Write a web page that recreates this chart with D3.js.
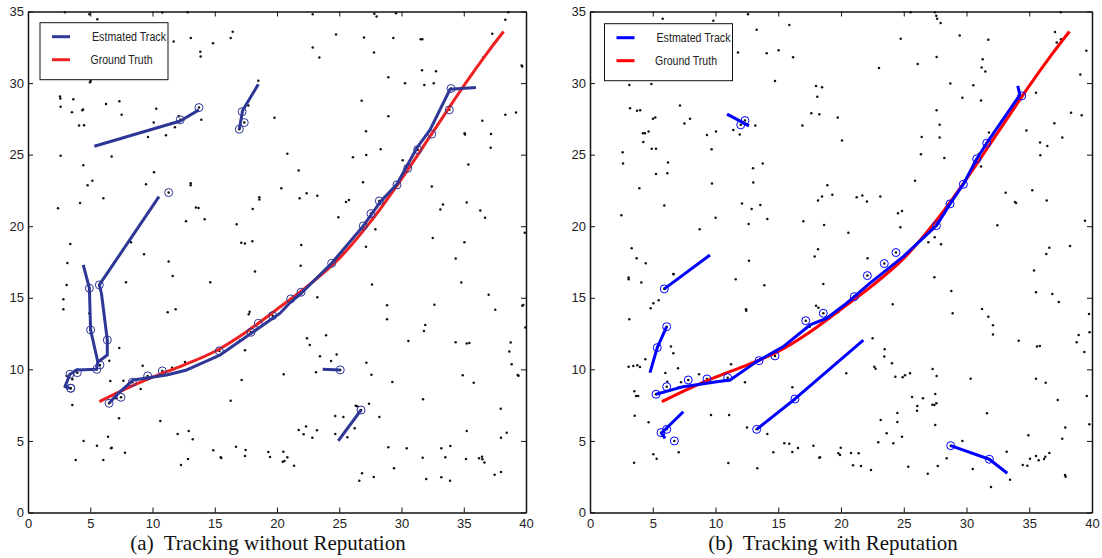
<!DOCTYPE html>
<html>
<head>
<meta charset="utf-8">
<script src="https://cdn.jsdelivr.net/npm/d3@7"></script>
<style>
  body { margin: 0; background: #fff; }
  svg { display: block; }
  .tick text { font-family: "Liberation Sans", Arial, sans-serif; font-size: 13px; fill: #222; }
  .domain { stroke: #111; stroke-width: 1.5; }
  .tick line { stroke: #111; stroke-width: 1; }
</style>
</head>
<body>
<div id="chart"></div>
<script>
const xTicks = [0, 5, 10, 15, 20, 25, 30, 35, 40];
const yTicks = [0, 5, 10, 15, 20, 25, 30, 35];
const legendLabels = ["Estmated Track", "Ground Truth"];
const titles = ["(a)  Tracking without Reputation", "(b)  Tracking with Reputation"];

// ground truth target path (same in both runs)
const groundTruth = [[5.73,7.74],[7.5,8.5],[10,9.45],[12.5,10.3],[15,11.25],[17.5,12.6],[20,14.2],[22.5,15.85],[25,17.75],[27.5,20.3],[30,23.3],[32.5,26.55],[35,29.8],[36.8,32.0],[38.2,33.6]];

// (a) estimated tracks without reputation
const leftTracks = [
  [[6.51,7.63],[7.12,8.21],[8.46,9.26],[11.14,9.61],[12.75,9.96],[15.42,11.0],[17.56,12.29],[20.24,13.92],[21.1,14.7],[21.93,15.3],[24.39,17.41],[26.93,20.02],[28.3,21.7],[29.64,22.95],[31.22,25.45],[32.29,26.73],[33.9,29.57],[35.98,29.69]],
  [[5.33,25.59],[12.23,27.35],[13.73,28.13]],
  [[10.52,22.07],[5.73,15.9],[5.9,15.3],[6.37,12.05],[6.37,11.0],[5.6,10.5],[5.5,10.0],[3.96,9.96],[3.37,9.66],[2.97,8.79],[3.35,8.68]],
  [[4.44,17.3],[4.93,15.67],[5.03,12.75],[5.6,10.55]],
  [[18.5,29.92],[17.24,28.08],[16.97,26.78]],
  [[23.67,10.0],[25.08,9.96]],
  [[24.92,5.0],[26.75,7.16]]
];
const leftCircled = [[13.73,28.29],[12.23,27.43],[17.2,28.0],[17.37,27.24],[16.97,26.78],[11.3,22.35],
  [4.93,15.67],[5.03,12.75],[5.73,15.9],[6.37,12.05],[5.78,10.31],[5.53,10.0],[3.37,9.66],[3.96,9.77],[3.43,8.68],[3.43,8.68],
  [6.51,7.63],[7.47,8.05],[8.38,9.1],[9.61,9.54],[10.79,9.89],[15.37,11.29],[17.91,12.59],[18.5,13.22],[19.65,13.75],[21.1,14.92],[21.93,15.39],
  [24.39,17.41],[26.93,20.02],[27.55,20.88],[28.22,21.77],[29.64,22.89],[30.5,24.05],[31.3,25.35],[32.43,26.43],[33.84,28.13],[33.98,29.62],
  [25.08,9.96],[26.75,7.16]];
const leftClutter = [
  [2.97,34.95],[4.93,34.8],[5.57,34.46],[10.79,34.93],[12.83,34.95],[16.44,33.58],[16.28,33.14],[11.7,32.9],[13.07,33.14],[14.86,32.79],[13.84,32.18],[13.87,31.85],[5.03,30.15],[4.98,30.05],[18.5,30.17],[2.57,29.06],[2.6,28.92],[3.64,28.87],[2.62,28.34],[3.53,27.97],[4.36,28.1],[4.42,28.15],[6.27,28.53],[7.34,28.73],[7.52,27.78],[10.3,28.2],[12.1,27.69],[13.92,27.43],[10.1,27.24],[11.8,26.92],[11.08,26.36],[9.64,26.24],[4.1,27.03],[4.5,27.06],[2.62,24.93],[6.72,24.87],[4.44,24.26],[5.17,23.17],[4.79,22.86],[10.12,23.77],[9.48,22.94],[13.07,23.0],[13.07,22.87],[6.05,21.96],[2.41,21.26],[4.18,21.63],[13.49,21.3],[13.7,21.28],[12.69,20.35],[14.19,20.49],[16.76,20.14],[18.58,22.03],[18.58,21.87],[18.05,21.21],[19.8,27.57],[17.7,28.43],[3.4,18.76],[8.27,18.88],[9.32,18.04],[3.16,17.43],[11.3,17.53],[11.62,16.53],[17.13,18.85],[17.42,18.8],[18.02,18.95],[18.23,16.83],
  [22.87,34.81],[27.82,34.84],[28.0,34.65],[29.56,34.88],[38.58,34.95],[38.34,34.42],[24.74,33.39],[26.99,33.18],[29.34,33.14],[31.54,33.07],[31.67,33.07],[22.87,32.48],[23.4,31.78],[27.79,32.13],[37.29,33.44],[37.43,32.79],[36.57,31.81],[39.65,31.22],[39.7,31.15],[31.65,30.9],[32.77,30.83],[28.94,30.41],[30.28,29.99],[31.83,29.87],[32.59,29.99],[26.8,28.76],[28.94,27.69],[38.34,27.78],[39.2,27.94],[36.49,27.36],[27.15,26.64],[35.07,26.5],[35.1,26.4],[37.19,26.45],[37.16,25.49],[20.83,25.07],[26.1,24.82],[27.17,24.98],[28.33,25.38],[30.1,24.61],[35.37,24.31],[21.74,23.89],[20.35,22.66],[22.38,22.31],[21.82,21.96],[23.24,22.12],[26.91,23.07],[25.78,21.84],[25.54,21.7],[32.43,22.77],[33.33,21.51],[33.12,21.16],[35.24,21.65],[36.33,21.09],[36.71,20.6],[24.93,20.63],[27.9,19.79],[32.51,19.18],[35.05,18.88],[39.9,19.55],[21.95,18.69],[21.9,17.23],[27.15,18.57],[34.35,17.74],[25.28,18.11],
  [3.1,15.9],[2.84,14.9],[2.84,14.2],[4.93,13.92],[7.87,16.09],[14.64,16.09],[11.22,13.99],[11.86,14.2],[17.73,13.85],[17.8,14.03],[7.33,11.5],[6.53,10.61],[17.03,12.01],[17.43,11.33],[9.21,10.26],[11.57,10.12],[12.61,10.52],[6.61,9.19],[7.66,9.21],[3.56,9.31],[3.1,9.54],[9.05,8.63],[17.16,9.26],[7.07,7.98],[3.56,7.51],[7.31,6.58],[10.63,6.39],[16.28,7.81],[6.43,5.3],[4.47,5.0],[6.67,4.49],[6.72,4.52],[5.54,4.67],[7.79,4.18],[3.83,3.67],[6.05,3.67],[12.02,5.49],[12.91,5.7],[13.23,5.12],[12.85,3.74],[12.29,3.32],[14.88,4.35],[15.48,3.86],[15.52,3.8],[16.71,4.6],[17.48,4.37],[17.43,3.95],[19.3,4.23],[19.44,3.88],
  [23.24,15.04],[27.63,15.92],[28.84,14.48],[28.84,13.5],[32.64,14.52],[34.8,16.06],[37.0,15.22],[37.53,14.17],[39.7,14.45],[39.78,14.5],[39.95,12.92],[31.91,13.1],[31.8,12.68],[30.55,11.98],[34.35,11.89],[35.24,11.8],[35.45,11.85],[38.77,11.87],[38.66,11.24],[38.85,10.36],[39.33,9.61],[39.4,9.55],[34.92,9.59],[35.8,9.07],[29.26,9.12],[27.58,9.63],[27.18,10.47],[22.41,12.17],[22.63,11.7],[23.94,12.38],[23.45,10.91],[24.34,10.59],[24.79,11.03],[23.13,9.8],[20.54,9.66],[31.73,7.91],[27.39,7.6],[26.32,7.46],[26.45,7.42],[28.22,6.67],[24.68,6.74],[25.33,6.67],[26.24,5.88],[25.65,5.25],[24.68,5.49],[23.21,5.74],[21.74,5.76],[22.14,5.46],[22.33,6.0],[22.84,5.23],[35.24,5.7],[37.97,7.25],[38.45,5.58],[37.99,5.23],[28.94,4.56],[30.42,4.49],[33.2,4.49],[33.92,4.65],[31.7,3.83],[33.52,3.86],[35.18,3.74],[36.23,3.79],[36.47,3.9],[36.5,3.72],[36.66,3.49],[37.48,2.64],[37.99,2.83],[29.4,3.09],[31.99,2.34],[33.2,2.46],[33.9,2.22],[26.83,2.74],[26.61,2.22],[27.77,2.48],[20.51,4.25],[20.46,3.55],[20.6,3.6],[20.83,3.86],[21.37,3.27]
];

// (b) estimated tracks with reputation
const rightTracks = [
  [[5.26,8.26],[7.43,8.79],[10.1,9.14],[11.16,9.26],[13.28,10.54],[15.4,11.59],[17.53,13.1],[18.86,13.57],[20.45,14.62],[22.31,16.02],[24.96,17.88],[27.6,20.04],[28.69,21.56],[29.75,22.93],[30.81,24.7],[31.61,25.8],[34.26,29.18],[34.08,29.8]],
  [[5.92,15.62],[9.56,17.99]],
  [[4.78,9.77],[5.36,11.52],[6.11,12.98]],
  [[7.43,7.04],[5.7,5.55],[5.98,5.18]],
  [[13.28,5.81],[16.33,7.93],[21.78,12.05]],
  [[28.74,4.67],[31.82,3.72],[33.25,2.74]],
  [[10.92,27.83],[12.67,27.01]]
];
const rightCircled = [[5.92,15.62],[5.36,11.52],[6.11,12.98],[5.26,8.26],[6.11,8.79],[7.83,9.26],[9.32,9.33],[10.97,9.42],[13.47,10.61],[14.74,10.94],[17.19,13.4],[18.59,13.92],[21.06,15.08],[22.1,16.55],[23.45,17.39],[24.38,18.16],[27.6,20.04],[28.69,21.56],[29.75,22.93],[30.81,24.7],[31.61,25.8],[34.4,29.1],
  [5.66,5.58],[6.11,5.81],[6.72,5.0],[13.28,5.81],[16.33,7.93],[28.74,4.67],[31.82,3.72],[12.01,27.08],[12.35,27.38]];
const rightClutter = [
  [5.79,34.49],[9.83,34.35],[12.59,34.81],[13.28,33.72],[15.88,34.05],[11.79,32.13],[14.08,32.09],[15.03,32.3],[16.18,31.81],[14.74,30.15],[3.13,29.87],[4.89,29.94],[3.19,28.24],[3.75,28.06],[4.0,28.11],[7.17,28.43],[5.02,27.5],[5.2,27.6],[7.52,27.17],[7.97,27.5],[4.22,26.5],[4.38,26.5],[4.67,26.61],[4.25,25.89],[4.92,25.42],[5.26,25.42],[2.6,25.17],[2.63,24.38],[6.22,24.45],[5.26,23.65],[6.16,23.7],[3.93,22.66],[5.92,21.44],[2.5,20.77],[9.32,26.38],[10.04,26.61],[11.42,26.73],[11.93,26.4],[13.17,27.03],[9.69,25.38],[9.72,22.98],[10.01,20.6],[8.74,19.79],[12.99,24.05],[13.76,24.38],[13.01,23.05],[12.11,21.58],[12.88,21.21],[13.57,21.49],[12.64,20.16],[14.13,20.51],[16.92,27.03],[18.01,29.8],[18.49,29.71],[18.11,29.04],[17.63,27.9],[18.27,27.83],[18.91,22.87],[18.49,22.07],[18.17,21.79],[18.65,20.09],[17.0,20.35],[3.32,18.46],[3.72,17.76],[4.44,17.41],[12.67,17.58],[17.9,17.88],[18.17,18.39],[3.08,16.41],[6.64,16.67],[11.61,16.3],
  [25.55,34.95],[27.49,34.95],[27.59,34.7],[27.66,34.49],[27.94,34.19],[37.51,34.95],[37.05,33.56],[37.19,32.83],[37.53,33.07],[24.76,33.09],[29.46,33.32],[31.74,33.02],[27.62,31.83],[31.29,31.67],[31.21,31.08],[31.5,30.8],[26.11,31.34],[23.03,31.06],[39.55,32.25],[39.07,30.6],[28.71,29.97],[30.54,29.85],[29.67,28.97],[31.16,28.78],[35.54,29.32],[27.62,28.1],[19.74,27.59],[27.86,27.08],[38.33,27.92],[39.18,27.76],[37.0,27.2],[37.63,26.19],[34.77,26.68],[35.86,25.84],[36.44,25.61],[35.88,24.96],[20.08,25.98],[26.43,26.24],[27.86,26.19],[26.37,25.03],[28.23,24.77],[31.79,26.54],[31.16,24.17],[30.97,25.05],[25.9,23.17],[19.31,22.19],[21.25,22.03],[21.7,22.14],[22.07,21.72],[23.13,22.07],[24.54,20.91],[24.86,21.07],[24.73,19.93],[20.59,19.55],[27.47,19.23],[26.96,18.88],[27.97,18.74],[33.12,22.33],[35.24,22.52],[33.86,21.7],[33.95,21.62],[36.39,21.79],[32.46,20.07],[39.44,20.39],[36.6,18.5],[36.36,18.06],[38.25,18.62],[22.12,17.76],[35.38,16.9],[27.44,16.44],
  [3.08,16.3],[4.09,16.06],[6.67,16.65],[13.89,15.88],[18.59,15.97],[4.83,14.27],[5.05,14.62],[5.47,14.83],[3.13,13.5],[12.43,14.2],[12.45,14.1],[18.01,14.45],[18.2,14.3],[6.45,11.59],[6.64,11.12],[4.41,10.7],[3.08,10.19],[3.45,10.24],[3.77,10.28],[3.98,10.17],[7.01,10.07],[6.0,9.75],[6.16,9.14],[7.25,9.1],[8.69,9.66],[11.24,10.36],[12.35,9.1],[3.53,8.47],[3.67,8.14],[3.84,8.14],[7.07,8.75],[3.56,6.76],[4.67,6.3],[9.64,6.81],[11.08,6.81],[7.07,4.21],[5.05,4.07],[5.31,3.76],[3.51,3.48],[11.02,3.46],[13.33,3.09],[12.51,5.93],[14.13,5.49],[16.12,8.75],[14.61,4.21],[15.48,4.84],[15.88,4.81],[16.12,4.23],[16.57,4.51],[17.8,4.67],[18.27,3.83],[17.51,12.98],
  [35.54,15.39],[36.84,15.27],[37.35,14.71],[28.79,15.48],[28.9,13.92],[31.24,14.22],[31.74,13.68],[32.11,13.08],[32.11,12.43],[34.16,11.99],[24.12,14.55],[19.76,13.99],[39.76,13.87],[38.94,12.4],[38.78,11.89],[39.81,12.59],[39.39,11.22],[35.62,11.59],[35.84,11.63],[22.52,12.17],[23.48,11.4],[23.45,10.89],[24.06,10.43],[22.65,10.19],[22.76,10.05],[20.42,9.73],[24.33,9.49],[24.91,9.45],[25.1,9.59],[25.5,9.73],[27.3,10.03],[27.62,9.54],[30.33,9.35],[35.54,9.35],[36.31,9.07],[25.66,8.07],[26.53,7.98],[26.08,7.44],[26.06,7.11],[27.28,7.53],[27.44,7.51],[27.6,7.63],[27.51,8.28],[27.51,6.11],[24.49,6.95],[24.49,6.32],[23.16,6.46],[23.64,5.53],[24.86,5.3],[24.17,4.84],[22.97,4.91],[31.63,6.93],[37.27,7.86],[37.87,5.93],[37.63,5.16],[34.93,5.39],[39.58,8.14],[39.79,6.16],[29.67,5.0],[33.2,4.25],[28.42,3.79],[30.5,3.04],[33.47,2.29],[31.95,1.78],[34.48,3.32],[34.85,3.27],[35.06,3.76],[35.54,3.95],[35.75,3.65],[36.18,3.74],[36.28,3.9],[36.6,4.16],[37.85,2.62],[37.9,2.5],[25.36,3.2],[26.91,2.71],[27.71,3.25],[22.39,2.97],[21.59,3.25],[20.96,3.3],[21.41,4.14],[20.8,4.16],[19.98,4.53],[19.79,4.14],[19.92,4.02],[18.33,3.86]
];

const width = 1102, height = 558;
const svg = d3.select("#chart").append("svg")
  .attr("width", width).attr("height", height);

const panels = [
  {x0: 28, x1: 526, tracks: leftTracks, circled: leftCircled, clutter: leftClutter,
   blue: "#2e3796", red: "#ee2222", title: titles[0], titleX: 268,
   legend: {x: 40, y: 22.7, w: 128, h: 57}},
  {x0: 590, x1: 1092, tracks: rightTracks, circled: rightCircled, clutter: rightClutter,
   blue: "#0000ff", red: "#ff0000", title: titles[1], titleX: 833,
   legend: {x: 604.5, y: 23.7, w: 128, h: 57}}
];
const yTop = 11.5, yBottom = 512.5;

panels.forEach(p => {
  const xScale = d3.scaleLinear().domain([0, 40]).range([p.x0, p.x1]);
  const yScale = d3.scaleLinear().domain([0, 35]).range([yBottom, yTop]);
  const g = svg.append("g");

  // clutter measurements
  g.append("g").selectAll("circle")
    .data(p.clutter.concat(p.circled))
    .join("circle")
    .attr("cx", d => xScale(d[0]))
    .attr("cy", d => yScale(d[1]))
    .attr("r", 1.25)
    .attr("fill", "#111");

  const line = d3.line().x(d => xScale(d[0])).y(d => yScale(d[1]));

  // ground truth
  g.append("path")
    .attr("d", line.curve(d3.curveCatmullRom)(groundTruth))
    .attr("fill", "none")
    .attr("stroke", p.red)
    .attr("stroke-width", 3)
    .attr("stroke-linejoin", "round");

  const trackLine = d3.line().x(d => xScale(d[0])).y(d => yScale(d[1]));
  g.append("g").selectAll("path")
    .data(p.tracks)
    .join("path")
    .attr("d", trackLine)
    .attr("fill", "none")
    .attr("stroke", p.blue)
    .attr("stroke-width", 3)
    .attr("stroke-linejoin", "round");

  // validated measurements (circled)
  g.append("g").selectAll("circle")
    .data(p.circled)
    .join("circle")
    .attr("cx", d => xScale(d[0]))
    .attr("cy", d => yScale(d[1]))
    .attr("r", 4)
    .attr("fill", "none")
    .attr("stroke", p.blue)
    .attr("stroke-width", 1);

  // axes (box with inside ticks)
  g.append("g")
    .attr("transform", `translate(0,${yBottom})`)
    .call(d3.axisBottom(xScale).tickValues(xTicks).tickSizeInner(-5).tickSizeOuter(0).tickPadding(6));
  g.append("g")
    .attr("transform", `translate(0,${yTop})`)
    .call(d3.axisTop(xScale).tickValues(xTicks).tickSizeInner(-5).tickSizeOuter(0).tickFormat(""));
  g.append("g")
    .attr("transform", `translate(${p.x0},0)`)
    .call(d3.axisLeft(yScale).tickValues(yTicks).tickSizeInner(-5).tickSizeOuter(0).tickPadding(4));
  g.append("g")
    .attr("transform", `translate(${p.x1},0)`)
    .call(d3.axisRight(yScale).tickValues(yTicks).tickSizeInner(-5).tickSizeOuter(0).tickFormat(""));

  // legend
  const lg = g.append("g").attr("transform", `translate(${p.legend.x},${p.legend.y})`);
  lg.append("rect")
    .attr("width", p.legend.w).attr("height", p.legend.h)
    .attr("fill", "#fff").attr("stroke", "#111").attr("stroke-width", 1);
  const legendItems = [
    {label: legendLabels[0], color: p.blue, y: 14, tx: 52, len: 74},
    {label: legendLabels[1], color: p.red, y: 37, tx: 50.5, len: 62}
  ];
  legendItems.forEach(it => {
    lg.append("line")
      .attr("x1", 12).attr("x2", 30).attr("y1", it.y).attr("y2", it.y)
      .attr("stroke", it.color).attr("stroke-width", 3);
    lg.append("text")
      .attr("x", it.tx).attr("y", it.y + 4)
      .attr("textLength", it.len).attr("lengthAdjust", "spacingAndGlyphs")
      .style("font-family", "Liberation Sans, Arial, sans-serif")
      .style("font-size", "12px")
      .attr("fill", "#222")
      .text(it.label);
  });

  // caption
  svg.append("text")
    .attr("x", p.titleX).attr("y", 550)
    .attr("text-anchor", "middle")
    .style("font-family", "Liberation Serif, Times New Roman, serif")
    .style("font-size", "21px")
    .style("white-space", "pre")
    .attr("fill", "#111")
    .text(p.title);
});
</script>
</body>
</html>
